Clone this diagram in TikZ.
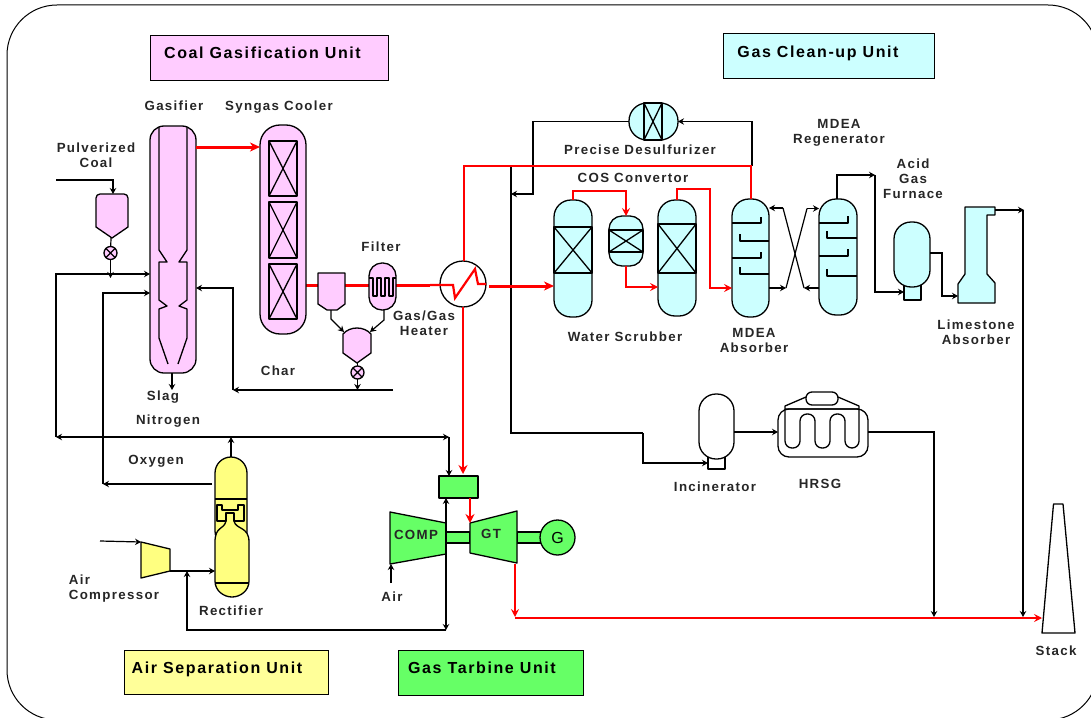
\documentclass[tikz,border=0pt]{standalone}
\usepackage{fontspec}
\setmainfont[LetterSpace=10]{Liberation Sans}
\usetikzlibrary{arrows.meta, calc}

\definecolor{pinkfill}{HTML}{FFCCFF}
\definecolor{cyanfill}{HTML}{CCFFFF}
\definecolor{yellowfill}{HTML}{FFFF80}
\definecolor{greenfill}{HTML}{66FF66}

\tikzset{
    equip/.style={draw=black, line width=1.3pt, line join=round},
    vessel/.style n args={3}{equip, rectangle, inner sep=0pt, outer sep=0pt,
        minimum width=#1pt, minimum height=#2pt, rounded corners=#3pt},
    packed/.style n args={2}{equip, rectangle, inner sep=0pt, outer sep=0pt,
        minimum width=#1pt, minimum height=#2pt,
        path picture={\draw[line width=1.3pt] (path picture bounding box.north west) -- (path picture bounding box.south east)
            (path picture bounding box.north east) -- (path picture bounding box.south west);}},
    valve/.style={equip, circle, inner sep=0pt, outer sep=0pt, minimum size=13pt,
        path picture={\draw[line width=1.1pt] (path picture bounding box.north west) -- (path picture bounding box.south east)
            (path picture bounding box.north east) -- (path picture bounding box.south west);}},
    pipe/.style={draw=black, line width=1.2pt},
    hot/.style={draw=red, line width=2.2pt, >={Stealth[length=9pt,width=9pt,inset=3pt]}},
    hotthin/.style={draw=red, line width=1.7pt, >={Stealth[length=8pt,width=8pt,inset=3pt]}},
    hotthick/.style={draw=red, line width=3pt, >={Stealth[length=10pt,width=9pt,inset=3pt]}},
    lbl/.style={font=\bfseries\fontsize{13.3}{15}\selectfont, inner sep=0pt, align=center, text=black!85},
    unitbox/.style n args={3}{draw=black, line width=0.8pt, fill=#3, inner sep=0pt, text depth=9pt,
        minimum width=#1pt, minimum height=#2pt, font=\bfseries\fontsize{16}{18}\selectfont},
}

\begin{document}
\begin{tikzpicture}[x=1pt, y=-1pt, >={Stealth[length=6pt,width=6.5pt,inset=2pt]}]

    \useasboundingbox (0,0) rectangle (1091,717);
    \draw[line width=1pt, rounded corners=50pt] (7,5) rectangle (1098,720);

    % Unit titles
    \node[unitbox={238}{45}{pinkfill}] (coalunit) at (269,57.5) {Coal Gasification Unit\hspace*{13pt}};
    \node[unitbox={211}{45}{cyanfill}] (cleanunit) at (828.5,56) {Gas Clean-up Unit\hspace*{21pt}};
    \node[unitbox={204}{44}{yellowfill!80!white}] (airunit) at (226,672) {Air Separation Unit\hspace*{18pt}};
    \node[unitbox={185}{45}{greenfill}] (gtunit) at (490.5,672.5) {Gas Tarbine Unit\hspace*{17pt}};

    % Red gas lines that run behind the equipment
    \coordinate (hotjoin) at (464,166);
    \coordinate (heaterin) at (430,285);
    \draw[hotthick] (306,285) -- (heaterin);

    % Gasifier
    \node[vessel={46}{247}{14}, fill=pinkfill] (gasifier) at (173,249.5) {};
    \draw[equip] (159,127) -- (159,250) -- (167,262) -- (159,262) -- (159,300) -- (167,306) -- (159,309) -- (159,338) -- (168,364);
    \draw[equip] (187,127) -- (187,250) -- (179,262) -- (187,262) -- (187,300) -- (179,306) -- (187,309) -- (187,338) -- (178,364);

    % Syngas cooler
    \node[vessel={46}{209}{20}, fill=pinkfill] (cooler) at (283,229.5) {};
    \node[packed={28}{55}] (coolerbedA) at (283,168.5) {};
    \node[packed={28}{56}] (coolerbedB) at (283,230) {};
    \node[packed={28}{55}] (coolerbedC) at (283,291.5) {};

    % Pulverized coal hopper
    \draw[equip, fill=pinkfill] (96,227) [rounded corners=4pt] -- (96,194) -- (128,194) [sharp corners] -- (128,227) -- (112,238) -- cycle;
    \coordinate (coaltip) at (111,238);
    \coordinate (coaltop) at (113,194);
    \node[valve, fill=pinkfill] (coalvalve) at (110.5,253) {};

    % Cyclone, filter and char hopper
    \draw[equip, fill=pinkfill] (318,273) -- (345,273) -- (345,304) -- (337,310) -- (327,310) -- (318,304) -- cycle;
    \coordinate (cyclonetip) at (331,310);
    \node[vessel={27}{47}{13}, fill=pinkfill] (filter) at (382.5,286.5) {};
    \draw[equip] (369,278) -- (373,278) -- (373,296) -- (377,296) -- (377,278) -- (381,278) -- (381,296) -- (385,296) -- (385,278) -- (389,278) -- (389,296) -- (393,296) -- (393,278) -- (396,278);
    \draw[equip, fill=pinkfill] (343,353) -- (343,334) .. controls (350,326) and (364,326) .. (371,334) -- (371,353) -- (357,363) -- cycle;
    \coordinate (charleft) at (344,332);
    \coordinate (charright) at (370,332);
    \node[valve, fill=pinkfill] (charvalve) at (357.5,372.5) {};

    % Gas/gas heater
    \node[equip, circle, inner sep=0pt, outer sep=0pt, minimum size=46pt] (heater) at (463,284) {};
    \draw[hot, line join=miter] (heaterin) -- (453,285) -- (455,298) -- (475,269) -- (478,284) -- (heater.east);

    % Precise desulfurizer
    \node[vessel={49}{37}{18}, fill=cyanfill] (desulf) at (653.5,121.5) {};
    \node[packed={18}{37}] (desulfbed) at (653,121.5) {};

    % Water scrubber and COS convertor
    \node[vessel={38}{117}{17}, fill=cyanfill] (scrubber) at (573,258.5) {};
    \node[packed={38}{46}] (scrubberbed) at (573,250) {};
    \node[vessel={34}{50}{13}, fill=cyanfill] (cos) at (626,241) {};
    \node[packed={34}{22}] (cosbed) at (626,241) {};
    \node[vessel={38}{116}{17}, fill=cyanfill] (scrubbertwo) at (677,258) {};
    \node[packed={38}{49}] (scrubbertwobed) at (677,248.5) {};

    % MDEA absorber and regenerator
    \node[vessel={37}{118}{17}, fill=cyanfill] (absorber) at (750.5,258) {};
    \node[vessel={38}{116}{17}, fill=cyanfill] (regen) at (838,257) {};
    \foreach \yy in {223,258} \draw[equip] (732,\yy) -- (761,\yy) -- (761,\yy-6);
    \foreach \yy in {241,274} \draw[equip] (769,\yy) -- (740,\yy) -- (740,\yy-7);
    \foreach \yy in {223,256} \draw[equip] (819,\yy) -- (848,\yy) -- (848,\yy-7);
    \foreach \yy in {238,276} \draw[equip] (857,\yy) -- (827,\yy) -- (827,\yy-7);

    % Acid gas furnace and limestone absorber
    \node[equip, rectangle, inner sep=0pt, outer sep=0pt, minimum width=17pt, minimum height=16pt, fill=cyanfill] (furnacebase) at (912.5,292) {};
    \node[vessel={36}{65}{17}, fill=cyanfill] (furnace) at (912,254.5) {};
    \draw[equip, fill=cyanfill] (965,207) -- (995,207) -- (995,215) -- (987,215) -- (987,274) -- (995,283) -- (995,303) -- (958,303) -- (958,284) -- (965,274) -- cycle;
    \coordinate (limein) at (958,296);
    \coordinate (limeout) at (995,210);

    % Incinerator and HRSG
    \node[equip, rectangle, inner sep=0pt, outer sep=0pt, minimum width=17pt, minimum height=14pt] (incinbase) at (716.5,462) {};
    \node[vessel={35}{65}{17}, fill=white] (incin) at (716.5,426.5) {};
    \node[vessel={90}{48}{11}] (hrsg) at (823,433) {};
    \draw[equip] (785,409) -- (785,406) -- (806,397) (838,397) -- (859,406) -- (859,409) -- (785,409);
    \node[vessel={32}{13}{6}, fill=white] (hrsgtop) at (822,398.5) {};
    \draw[equip, rounded corners=7pt] (785,409) -- (785,448) -- (800,448) -- (800,414) -- (815,414) -- (815,448) -- (830,448) -- (830,414) -- (845,414) -- (845,448) -- (859,448) -- (859,409);

    % Stack
    \draw[equip] (1053.5,504) -- (1063,504) -- (1075,633) -- (1042,633) -- cycle;
    \coordinate (stackin) at (1042,618);

    % Rectifier and air compressor
    \node[vessel={32}{90}{16}, fill=yellowfill] (rectifier) at (231,502) {};
    \draw[equip, fill=yellowfill] (226,521) .. controls (224,530) and (215,526) .. (215,542) -- (215,581) .. controls (215,591) and (224,597) .. (232,597) .. controls (240,597) and (249,591) .. (249,581) -- (249,542) .. controls (249,526) and (236,530) .. (234,521);
    \coordinate (rectifierin) at (215,571);
    \draw[equip] (215,499) -- (247,499);
    \draw[equip] (215,583) -- (249,583);
    \draw[equip, fill=yellowfill] (217,505) -- (222,505) -- (222,510) -- (238,510) -- (238,505) -- (244,505) -- (244,521) -- (234,521) -- (234,513) -- (226,513) -- (226,521) -- (217,521) -- cycle;
    \draw[equip, fill=yellowfill] (141,542) -- (170,549) -- (170,571) -- (141,578) -- cycle;
    \coordinate (aircompin) at (141,542);
    \coordinate (aircompout) at (170,571);

    % Gas turbine
    \node[equip, rectangle, inner sep=0pt, outer sep=0pt, minimum width=39pt, minimum height=22pt, fill=greenfill] (combustor) at (458.5,487) {};
    \node[equip, rectangle, inner sep=0pt, outer sep=0pt, minimum width=24pt, minimum height=11pt, fill=greenfill] (shaft) at (458,537.5) {};
    \node[equip, rectangle, inner sep=0pt, outer sep=0pt, minimum width=24pt, minimum height=11pt, fill=greenfill] (gtshaft) at (529,537.5) {};
    \draw[equip, fill=greenfill] (390,512) -- (446,523) -- (446,554) -- (390,564) -- cycle;
    \draw[equip, fill=greenfill] (470,523) -- (517,511) -- (517,563) -- (470,553) -- cycle;
    \node[equip, circle, inner sep=0pt, outer sep=0pt, minimum size=35pt, fill=greenfill, font=\fontsize{16}{18}\selectfont] (gen) at (557.5,537.5) {G};
    \coordinate (compbase) at (391,564);
    \coordinate (gttop) at (470,523);
    \coordinate (gtbase) at (515,564);

    % Free ends and junctions of the black lines
    \coordinate (coalin) at (56,180);
    \coordinate (nitroleft) at (56,437);
    \coordinate (oxyleft) at (103,484);
    \coordinate (charline) at (393,390);
    \coordinate (charturn) at (233,390);
    \coordinate (nitroright) at (449,437);
    \coordinate (airin) at (100,541);
    \coordinate (returnbase) at (446,630);
    \coordinate (airbelow) at (391,583);
    \coordinate (cleanline) at (511,166);

    % Coal feed and gasifier streams
    \draw[pipe, ->] (coalin) -| (coaltop);
    \draw[pipe] (coaltip) -- (coalvalve);
    \draw[pipe, ->] (coalvalve) -- (110.5,278);
    \draw[pipe, ->] (nitroleft) |- (gasifier.west |- 0,274);
    \draw[pipe, ->] (oxyleft) |- (gasifier.west |- 0,293);
    \draw[pipe, ->] (charturn) |- (gasifier.east |- 0,288);
    \draw[pipe, ->] (charline) -- (charturn);
    \draw[line width=1.8pt, ->] (gasifier.south -| 172,0) -- (172,390);
    \draw[pipe, ->] (cyclonetip) -- (331,319) -- (charleft);
    \draw[pipe, ->] (filter.south -| 384,0) -- (384,320) -- (charright);
    \draw[pipe] (357.5,363) -- (charvalve);
    \draw[pipe, ->] (charvalve) -- (charvalve |- charline);

    % Air separation and nitrogen / oxygen lines
    \draw[pipe, <->] (nitroleft) -- (nitroright);
    \draw[pipe, ->] (nitroright) -- (combustor.north -| nitroright);
    \draw[pipe, ->] (rectifier.north) -- (rectifier.north |- nitroleft);
    \draw[pipe, ->] (212,484) -- (oxyleft);
    \draw[pipe, ->] (airin) -- (aircompin);
    \draw[pipe, ->] (aircompout) -- (rectifierin);
    \draw[pipe, ->] (returnbase) -| (187,571);
    \draw[pipe, <->] (combustor.south -| returnbase) -- (returnbase);
    \draw[pipe, ->] (airbelow) -- (compbase);

    % Gas clean-up black lines
    \draw[pipe] (cleanline) |- (643,433);
    \draw[pipe, ->] (643,433) |- (incinbase.west |- 0,463);
    \draw[pipe, ->] (desulf.west) -- (533,121.5) |- (511,194);
    \draw[pipe, ->] (752,166) |- (desulf.east);
    \draw[pipe, ->] (incin.east |- 0,432) -- (hrsg.west |- 0,432);
    \draw[pipe, ->] (hrsg.east |- 0,432) -| (934,617);
    \draw[pipe, ->] (limeout) -- (1024,210);
    \draw[pipe, ->] (1023,210) -- (1023,617);
    \draw[pipe, ->] (regen.north -| 837,0) -- (837,175) -- (875,175);
    \draw[pipe, ->] (875,175) |- (furnacebase.west |- 0,292);
    \draw[pipe, ->] (furnace.east |- 0,253) -- (942,253) |- (limein);
    \draw[pipe, ->] (absorber.east |- 0,288) -- (786,288);
    \draw[pipe] (786,288) -- (807,208.5);
    \draw[pipe, ->] (807,208.5) -- (regen.west |- 0,208.5);
    \draw[pipe, ->] (regen.west |- 0,288) -- (804,288);
    \draw[pipe] (804,288) -- (783,208);
    \draw[pipe, ->] (783,208) -- (absorber.east |- 0,208);

    % Red gas path
    \draw[hotthick, ->] (gasifier.east |- 0,147) -- (cooler.west |- 0,147);
    \draw[hot] (heater.north -| 464,0) -- (hotjoin) -| (absorber.north -| 751,0);
    \draw[hotthick, ->] (489,286) -- (scrubber.west |- 0,286);
    \draw[hot, ->] (heater.south) -- (463,474);
    \draw[hotthin, ->] (scrubber.north) -- (573,191) -| (cos.north);
    \draw[hotthin, ->] (cos.south) -- (626,287) -- (scrubbertwo.west |- 0,287);
    \draw[hotthin, ->] (scrubbertwo.north) -- (677,189) -- (710,189) |- (absorber.west |- 0,288);
    \draw[hot, ->] (470,498) -- (gttop);
    \draw[hotthin, ->] (gtbase) -- (515,617);
    \draw[hotthin, ->] (515,618) -- (stackin);

    % Labels
    \node[lbl] (lblgasifier) at (174,106) {Gasifier};
    \node[lbl] (lblcooler) at (279,107) {Syngas Cooler};
    \node[lbl] (lblcoal) at (96,155) {Pulverized\\Coal};
    \node[lbl] (lblfilter) at (381,247) {Filter};
    \node[lbl] (lblheater) at (424,323) {Gas/Gas\\Heater};
    \node[lbl] (lblchar) at (278,371) {Char};
    \node[lbl] (lblslag) at (163,397) {Slag};
    \node[lbl] (lblnitrogen) at (168,421) {Nitrogen};
    \node[lbl] (lbloxygen) at (156,461) {Oxygen};
    \node[lbl, align=left] (lblaircomp) at (114,589) {Air\\Compressor};
    \node[lbl] (lblrectifier) at (231,611) {Rectifier};
    \node[lbl] (lblair) at (392,597) {Air};
    \node[lbl] (lblcomp) at (416,535) {COMP};
    \node[lbl] (lblgt) at (491,534) {GT};
    \node[lbl] (lbldesulf) at (640,150) {Precise Desulfurizer};
    \node[lbl] (lblcos) at (633,178) {COS Convertor};
    \node[lbl] (lblregen) at (839,133) {MDEA\\Regenerator};
    \node[lbl] (lblfurnace) at (913,179) {Acid\\Gas\\Furnace};
    \node[lbl] (lblscrubber) at (625,337) {Water Scrubber};
    \node[lbl] (lblabsorber) at (754,340) {MDEA\\Absorber};
    \node[lbl] (lbllime) at (976,332) {Limestone\\Absorber};
    \node[lbl] (lblincin) at (715,487) {Incinerator};
    \node[lbl] (lblhrsg) at (820,484) {HRSG};
    \node[lbl] (lblstack) at (1056,651) {Stack};

\end{tikzpicture}
\end{document}
